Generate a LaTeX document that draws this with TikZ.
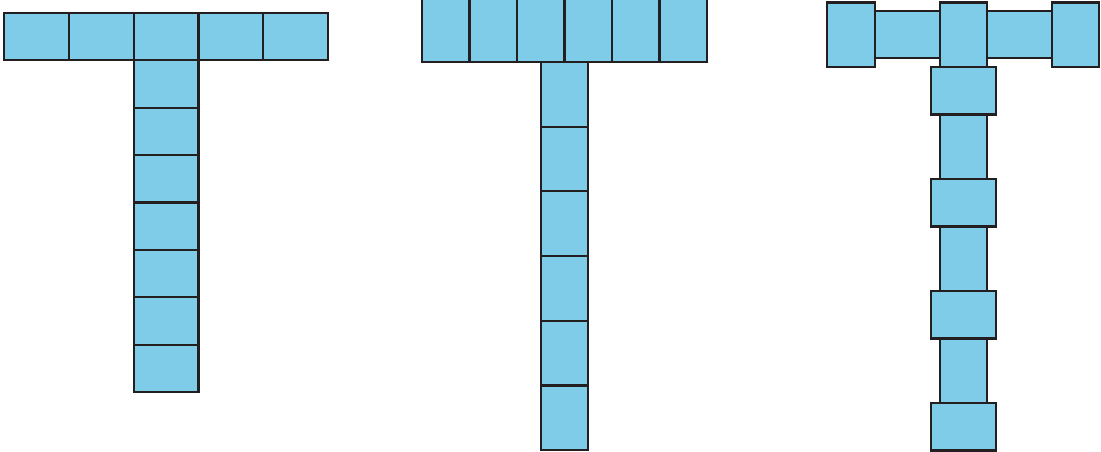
\documentclass[tikz,border=0pt]{standalone}
\usepackage{xcolor}
\usepackage{tikz}
\usetikzlibrary{positioning}
\definecolor{tileblue}{RGB}{127,204,232}
\definecolor{tileline}{RGB}{35,31,32}

\begin{document}
\begin{tikzpicture}[x=1pt,y=-1pt,
		every node/.style={rectangle,draw=tileline,fill=tileblue,line width=2.2pt,inner sep=0pt},
		hcell/.style={minimum width=64.8pt,minimum height=47.4pt},
		vcell/.style={minimum width=47.5pt,minimum height=64.8pt}]
		\useasboundingbox (0,0) rectangle (1101,452);

		% first T
		\foreach \i in {0,...,4}
			\node[hcell] (a\i) at (36.4+64.8*\i,36.5) {};
		\foreach \j in {1,...,7}
			\node[hcell] (b\j) at (166,36.5+47.4*\j) {};

		% second T
		\foreach \i in {0,...,5}
			\node[vcell] (c\i) at (445.75+47.5*\i,29.6) {};
		\foreach \j in {1,...,6}
			\node[vcell] (d\j) at (564.5,29.6+64.7*\j) {};

		% third T
		\node[vcell] (e1) at (851,35) {};
		\node[hcell] (e2) at (907.5,34.7) {};
		\node[vcell] (e3) at (963.5,35) {};
		\node[hcell] (e4) at (1019.5,34.7) {};
		\node[vcell] (e5) at (1075.5,35) {};
		\foreach \j in {1,2,3}
			\node[vcell] (f\j) at (963.5,34.4+112*\j) {};
		\foreach \j in {0,...,3}
			\node[hcell] (g\j) at (963.5,90.7+112*\j) {};
	\end{tikzpicture}
\end{document}
